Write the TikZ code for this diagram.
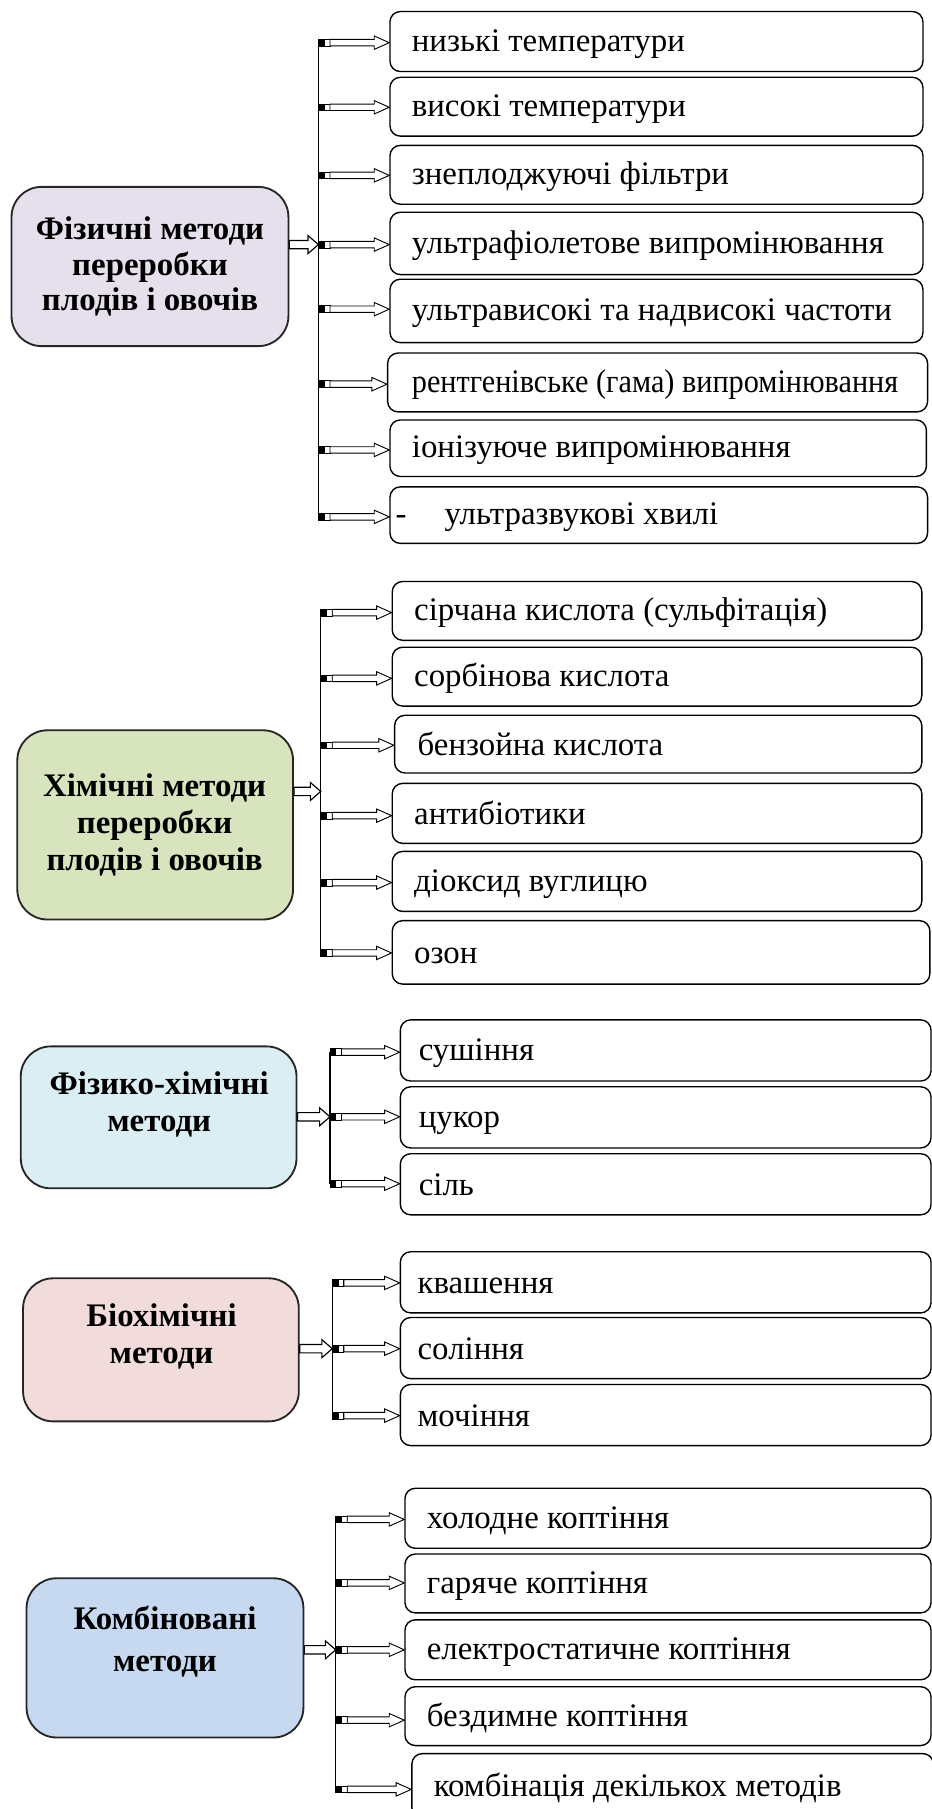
\documentclass[tikz,border=0pt]{standalone}
\usepackage{fontspec}
\usepackage{graphicx}
\setmainfont{Liberation Serif}
\usetikzlibrary{calc}

\definecolor{physfill}{HTML}{E5E0EC}
\definecolor{chemfill}{HTML}{D7E4BD}
\definecolor{pcfill}{HTML}{DBEEF4}
\definecolor{biofill}{HTML}{F2DCDB}
\definecolor{combfill}{HTML}{C6D9F1}

% invisible strut that sets the baseline of leaf texts a little below centre
\newcommand\leafstrut{\rule[-3pt]{0pt}{26pt}}

% leaf box: name, left, top, right, bottom, text inset, text
\newcommand\leafnode[7]{%
  \pgfmathsetmacro\lw{#4-#2}%
  \pgfmathsetmacro\lh{#5-#3}%
  \pgfmathsetmacro\tw{#4-#2-2*#6}%
  \node[leaf, minimum width=\lw pt, minimum height=\lh pt] (#1)
    at ({(#2+#4)/2},{(#3+#5)/2}) {\makebox[\tw pt][l]{\leafstrut #7}};}

% group box: name, left, top, right, bottom, fill colour
\newcommand\groupnode[6]{%
  \pgfmathsetmacro\lw{#4-#2}%
  \pgfmathsetmacro\lh{#5-#3}%
  \node[groupbox, fill=#6, minimum width=\lw pt, minimum height=\lh pt] (#1)
    at ({(#2+#4)/2},{(#3+#5)/2}) {};}

% branch from a point on the spine to a leaf box
\newcommand\branch[2]{%
  \path (#1) edge[tailfill] (#2.west) edge[tailopen] (#2.west) edge[shaft] (#2.west);}

\begin{document}
\begin{tikzpicture}[x=1pt, y=-1pt,
  leaf/.style={draw, line width=1.2pt, rounded corners=9pt, inner sep=0pt,
    font=\fontsize{28.5}{32.5}\selectfont},
  groupbox/.style={draw=black!85, line width=1.6pt, rounded corners=26pt, inner sep=0pt},
  grouptext/.style={align=center, inner sep=0pt,
    font=\fontsize{28.5}{31}\bfseries\selectfont},
  spine/.style={line width=1.2pt},
  shaft/.style={draw, fill=white, line width=0.8pt, line join=miter,
    to path={let \p1=(\tikztostart), \p2=(\tikztotarget) in
      (\x1+10pt,\y1+2.8pt) -- (\x2-13pt,\y1+2.8pt) -- (\x2-13pt,\y1+5.8pt) --
      (\x2,\y1) -- (\x2-13pt,\y1-5.8pt) -- (\x2-13pt,\y1-2.8pt) --
      (\x1+10pt,\y1-2.8pt) -- cycle}},
  tailopen/.style={draw, line width=0.7pt,
    to path={let \p1=(\tikztostart) in
      (\x1,\y1-2.9pt) rectangle (\x1+5pt,\y1+2.9pt)
      (\x1+5pt,\y1-2.9pt) rectangle (\x1+10pt,\y1+2.9pt)}},
  tailfill/.style={draw, fill=black, line width=0.7pt,
    to path={let \p1=(\tikztostart) in
      (\x1,\y1-2.9pt) rectangle (\x1+5pt,\y1+2.9pt)}},
  trunk/.style={draw, fill=white, line width=1pt, line join=miter,
    to path={let \p1=(\tikztostart), \p2=(\tikztotarget) in
      (\x1,\y1+3.6pt) -- (\x2-9pt,\y1+3.6pt) -- (\x2-9pt,\y1+7.8pt) --
      (\x2,\y1) -- (\x2-9pt,\y1-7.8pt) -- (\x2-9pt,\y1-3.6pt) --
      (\x1,\y1-3.6pt) -- cycle}}
]
\useasboundingbox (0,0) rectangle (807,1568);

%% ---------- physical methods ----------
\groupnode{P}{10}{162}{250}{300}{physfill}
\node[grouptext] (Pt) at (130,231) {Фізичні методи\\переробки\\плодів і овочів};
\leafnode{P1}{338}{10}{800}{62}{19}{низькі температури}
\leafnode{P2}{338}{67}{800}{118}{19}{високі температури}
\leafnode{P3}{338}{126}{800}{177}{19}{знеплоджуючі фільтри}
\leafnode{P4}{338}{184}{800}{238}{19}{ультрафіолетове випромінювання}
\leafnode{P5}{338}{242}{800}{297}{19}{ультрависокі та надвисокі частоти}
\leafnode{P6}{336}{306}{804}{357}{21}{\scalebox{0.92}[1]{рентгенівське (гама) випромінювання}}
\leafnode{P7}{338}{364}{803}{413}{19}{іонізуюче випромінювання}
\leafnode{P8}{338}{422}{804}{471}{5}{-\hspace{33pt}ультразвукові хвилі}
\coordinate (pa1) at (276,37);
\coordinate (pa2) at (276,93);
\coordinate (pa3) at (276,152);
\coordinate (pa4) at (276,212);
\coordinate (pa5) at (276,268);
\coordinate (pa6) at (276,333);
\coordinate (pa7) at (276,390);
\coordinate (pa8) at (276,448);
\coordinate (pj) at (276,212);
\draw[spine] (pa1) -- (pa8);
\draw[trunk] (P.east |- pj) to (pj);
\foreach \i in {1,...,8} {\branch{pa\i}{P\i}}

%% ---------- chemical methods ----------
\groupnode{C}{15}{633}{254}{797}{chemfill}
\node[grouptext, font=\fontsize{28.5}{32}\bfseries\selectfont] (Ct) at (134,715) {Хімічні методи\\переробки\\плодів і овочів};
\leafnode{C1}{340}{504}{799}{555}{19}{сірчана кислота (сульфітація)}
\leafnode{C2}{340}{561}{799}{612}{19}{сорбінова кислота}
\leafnode{C3}{342}{620}{799}{670}{20}{бензойна кислота}
\leafnode{C4}{340}{679}{799}{731}{19}{антибіотики}
\leafnode{C5}{340}{738}{799}{790}{19}{діоксид вуглицю}
\leafnode{C6}{340}{798}{806}{853}{19}{озон}
\coordinate (ca1) at (278,531);
\coordinate (ca2) at (278,588);
\coordinate (ca3) at (278,646);
\coordinate (ca4) at (278,707);
\coordinate (ca5) at (278,765);
\coordinate (ca6) at (278,826);
\coordinate (cj) at (278,686);
\draw[spine] (ca1) -- (ca6);
\draw[trunk] (C.east |- cj) to (cj);
\foreach \i in {1,...,6} {\branch{ca\i}{C\i}}

%% ---------- physico-chemical methods ----------
\groupnode{F}{18}{907}{257}{1030}{pcfill}
\node[grouptext, font=\fontsize{28.5}{32}\bfseries\selectfont] (Ft) at (138,957) {Фізико-хімічні\\методи};
\leafnode{F1}{347}{884}{807}{937}{16}{сушіння}
\leafnode{F2}{347}{942}{807}{995}{16}{цукор}
\leafnode{F3}{347}{1000}{807}{1053}{16}{сіль}
\coordinate (fa1) at (286,912);
\coordinate (fa2) at (286,968);
\coordinate (fa3) at (286,1026);
\coordinate (fj) at (286,968);
\draw[spine] (fa1) -- (fa3);
\draw[trunk] (F.east |- fj) to (fj);
\foreach \i in {1,2,3} {\branch{fa\i}{F\i}}

%% ---------- biochemical methods ----------
\groupnode{B}{20}{1108}{259}{1232}{biofill}
\node[grouptext, font=\fontsize{28.5}{32}\bfseries\selectfont] (Bt) at (140,1158) {Біохімічні\\методи};
\leafnode{B1}{347}{1085}{807}{1138}{15}{квашення}
\leafnode{B2}{347}{1142}{807}{1195}{15}{соління}
\leafnode{B3}{347}{1200}{807}{1253}{15}{мочіння}
\coordinate (ba1) at (288,1112);
\coordinate (ba2) at (288,1169);
\coordinate (ba3) at (288,1227);
\coordinate (bj) at (288,1169);
\draw[spine] (ba1) -- (ba3);
\draw[trunk] (B.east |- bj) to (bj);
\foreach \i in {1,2,3} {\branch{ba\i}{B\i}}

%% ---------- combined methods ----------
\groupnode{K}{23}{1368}{263}{1506}{combfill}
\node[grouptext, font=\fontsize{28.5}{36}\bfseries\selectfont] (Kt) at (143,1423) {Комбіновані\\методи};
\leafnode{K1}{351}{1290}{807}{1342}{19}{холодне коптіння}
\leafnode{K2}{351}{1347}{807}{1398}{19}{гаряче коптіння}
\leafnode{K3}{351}{1404}{807}{1456}{19}{електростатичне коптіння}
\leafnode{K4}{351}{1462}{807}{1513}{19}{бездимне коптіння}
\leafnode{K5}{357}{1520}{809}{1576}{19}{комбінація декількох методів}
\coordinate (ka1) at (291,1317);
\coordinate (ka2) at (291,1372);
\coordinate (ka3) at (291,1430);
\coordinate (ka4) at (291,1491);
\coordinate (ka5) at (291,1551);
\coordinate (kj) at (291,1430);
\draw[spine] (ka1) -- (ka5);
\draw[trunk] (K.east |- kj) to (kj);
\foreach \i in {1,...,5} {\branch{ka\i}{K\i}}
\end{tikzpicture}
\end{document}
